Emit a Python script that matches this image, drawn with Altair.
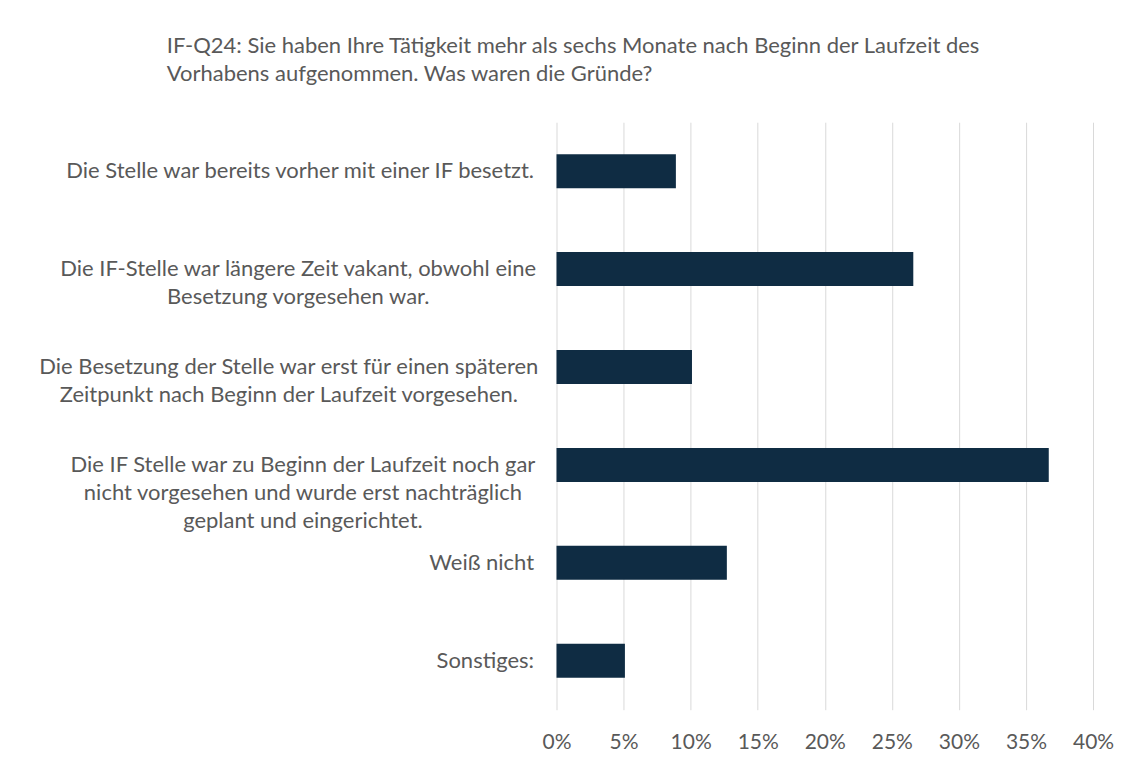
import altair as alt
import pandas as pd

# ---- data ----
categories = [
    "Die Stelle war bereits vorher mit einer IF besetzt.",
    "Die IF-Stelle war längere Zeit vakant, obwohl eine\nBesetzung vorgesehen war.",
    "Die Besetzung der Stelle war erst für einen späteren\nZeitpunkt nach Beginn der Laufzeit vorgesehen.",
    "Die IF Stelle war zu Beginn der Laufzeit noch gar\nnicht vorgesehen und wurde erst nachträglich\ngeplant und eingerichtet.",
    "Weiß nicht",
    "Sonstiges:",
]
shares = [0.089, 0.266, 0.101, 0.367, 0.127, 0.051]
x_ticks = [0.0, 0.05, 0.10, 0.15, 0.20, 0.25, 0.30, 0.35, 0.40]
title_lines = [
    "IF-Q24: Sie haben Ihre Tätigkeit mehr als sechs Monate nach Beginn der Laufzeit des",
    "Vorhabens aufgenommen. Was waren die Gründe?",
]

df = pd.DataFrame({"Kategorie": categories, "Anteil": shares})

FONT = "Lato"
FS = 22
TXT = "#595959"

label_align = alt.ExprRef(expr="indexof(datum.value, '\\n') >= 0 ? 'center' : 'right'")
label_pad = alt.ExprRef(
    expr="indexof(datum.value, '\\n') >= 0 ? 24 + 4.7 * length(split(datum.value, '\\n')[0]) : 23"
)

chart = (
    alt.Chart(df)
    .mark_bar(color="#0f2c43", size=34)
    .encode(
        x=alt.X(
            "Anteil:Q",
            scale=alt.Scale(domain=[0, 0.40], nice=False),
            axis=alt.Axis(
                values=x_ticks,
                format=".0%",
                title=None,
                domain=False,
                ticks=False,
                grid=True,
                gridColor="#d9d9d9",
                gridWidth=1,
                labelFont=FONT,
                labelFontSize=21,
                labelColor=TXT,
                labelPadding=22,
                labelFlush=False,
                labelOverlap=False,
            ),
        ),
        y=alt.Y(
            "Kategorie:N",
            sort=categories,
            scale=alt.Scale(paddingInner=0, paddingOuter=0),
            axis=alt.Axis(
                title=None,
                domain=False,
                ticks=False,
                grid=False,
                labelExpr="split(datum.label, '\\n')",
                labelFont=FONT,
                labelFontSize=FS,
                labelColor=TXT,
                labelLineHeight=28,
                labelLimit=0,
                labelAlign=label_align,
                labelPadding=label_pad,
                labelBaseline="middle",
            ),
        ),
    )
    .properties(
        width=537,
        height=588,
        background="white",
        title=alt.TitleParams(
            text=title_lines,
            anchor="start",
            frame="group",
            dx=-390,
            offset=36,
            font=FONT,
            fontSize=FS,
            fontWeight="normal",
            color=TXT,
            lineHeight=28,
        ),
        autosize=alt.AutoSizeParams(type="none"),
        padding={"left": 549, "top": 114, "right": 30, "bottom": 46},
    )
    .configure_view(strokeWidth=0, stroke="transparent")
)

chart.save("out.html", embed_options={"renderer": "svg", "actions": False})
